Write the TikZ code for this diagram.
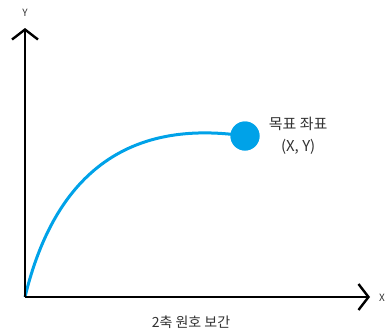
\documentclass[tikz,border=0pt]{standalone}
\usepackage{fontspec}
\setmainfont{Noto Sans CJK KR}
\usetikzlibrary{arrows.meta,positioning}
\definecolor{ArcBlue}{RGB}{0,162,232}
\definecolor{LabelGray}{RGB}{50,50,50}
\tikzset{
  axis/.style={line width=2.4pt,black,-{Straight Barb[length=10pt,width=26pt,line width=2.4pt]}},
  arc/.style={line width=3pt,ArcBlue},
  target/.style={circle,fill=ArcBlue,minimum size=29pt,inner sep=0pt},
  axislabel/.style={font=\fontsize{10}{11}\selectfont,text=LabelGray,inner sep=1pt},
  tlabel/.style={font=\fontsize{15}{22}\selectfont,text=LabelGray,align=center,inner sep=1pt}
}
\begin{document}
\begin{tikzpicture}[x=1pt,y=-1pt]
  \useasboundingbox (0,0) rectangle (385,332);
  \coordinate (origin) at (25,297);
  \coordinate (ytip) at (25,28);
  \coordinate (xtip) at (370,297);
  \node[target] (goal) at (245,136) {};
  \draw[arc] (origin) .. controls (60,152) and (150,122) .. (goal.center);
  \node[target] at (goal.center) {};
  \draw[axis] (origin) -- (ytip);
  \draw[axis] (origin) -- (xtip);
  \node[axislabel] (ylabel) at (25,13) {Y};
  \node[axislabel,anchor=west] (xlabel) at (378,298) {X};
  \node[tlabel,right=8pt of goal,yshift=0pt] (goaltext) {목표 좌표\\(X, Y)};
  \node[tlabel,font=\fontsize{14}{16}\selectfont] (caption) at (191,322) {2축 원호 보간};
\end{tikzpicture}
\end{document}
